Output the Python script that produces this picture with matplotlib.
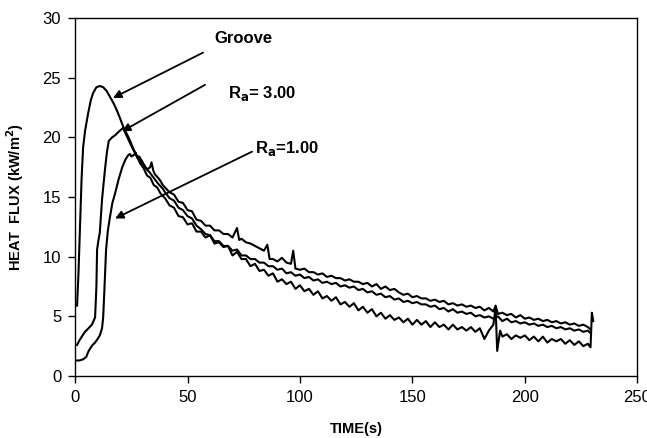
import matplotlib
matplotlib.use("Agg")
import matplotlib.pyplot as plt

# Groove (decays fastest, lowest at the end)
t_groove = [0.9, 1.5, 2.2, 2.9, 3.6, 4.5, 5.8, 7.0, 8.0, 9.5, 11.0, 12.5, 14.0, 15.5, 17.0,
            18.5, 20.0, 21.4, 23.0, 24.5, 26.0, 27.5, 29.0, 30.5, 32.0, 33.5, 35.0, 36.5, 38.0,
            40, 42, 44, 46, 48, 50, 52, 54, 56, 58, 60, 62, 64, 66, 68, 70, 72, 74, 76, 78,
            80, 82, 84, 86, 88, 90, 92, 94, 96, 98, 100, 102, 104, 106, 108, 110, 112, 114,
            116, 118, 120, 122, 124, 126, 128, 130, 132, 134, 136, 138, 140, 142, 144, 146,
            148, 150, 152, 154, 156, 158, 160, 162, 164, 166, 168, 170, 172, 174, 176, 178,
            180, 182, 184, 186, 187, 187.7, 189, 190, 192, 194, 196, 198, 200, 202, 204, 206,
            208, 210, 212, 214, 216, 218, 220, 222, 224, 226, 228, 229.2, 229.8, 230.4]
q_groove = [5.9, 8.5, 12.5, 16.5, 19.2, 20.6, 22.0, 23.1, 23.7, 24.2, 24.3, 24.2, 23.9, 23.4, 22.9,
            22.3, 21.6, 20.9, 20.3, 19.7, 19.0, 18.4, 17.8, 17.4, 16.8, 16.6, 16.0, 15.8, 15.3,
            14.9, 14.3, 14.1, 13.4, 13.3, 12.7, 12.8, 12.1, 12.1, 11.6, 11.8, 11.1, 11.2, 10.8, 10.9, 10.1, 10.4, 9.8, 9.8, 9.2,
            9.4, 8.8, 8.9, 8.4, 8.6, 7.9, 8.1, 7.7, 7.9, 7.3, 7.6, 7.1, 7.3, 6.8, 7.1, 6.5, 6.7, 6.3,
            6.6, 6.0, 6.2, 5.8, 6.1, 5.5, 5.8, 5.3, 5.6, 5.0, 5.3, 4.8, 5.1, 4.7, 4.9, 4.5,
            4.8, 4.3, 4.7, 4.3, 4.6, 4.1, 4.5, 4.1, 4.3, 3.9, 4.3, 3.9, 4.1, 3.8, 4.1, 3.7,
            4.0, 3.1, 3.8, 4.3, 5.7, 2.1, 3.8, 3.3, 3.5, 3.1, 3.4, 3.2, 3.4, 3.0, 3.3, 2.9,
            3.3, 2.8, 3.1, 2.9, 3.1, 2.7, 3.0, 2.6, 2.9, 2.5, 2.7, 2.4, 5.3, 4.6]

# Ra = 3.00 (smooth middle curve)
t_ra3 = [0.9, 2.0, 3.0, 4.4, 6.0, 7.5, 8.9, 9.5, 9.8, 10.5, 11.0, 12.0, 13.3, 14.2, 15.0, 16.5,
         18.0, 19.0, 20.2, 21.4, 22.5, 24.0, 25.5, 27.0, 28.9, 30.0, 31.5, 33.0, 35.0, 37.0, 39.0,
         40, 42, 44, 46, 48, 50, 52, 54, 56, 58, 60, 62, 64, 66, 68, 70, 72, 74, 76, 78,
         80, 82, 84, 86, 88, 90, 92, 94, 96, 98, 100, 102, 104, 106, 108, 110, 112, 114,
         116, 118, 120, 122, 124, 126, 128, 130, 132, 134, 136, 138, 140, 142, 144, 146,
         148, 150, 152, 154, 156, 158, 160, 162, 164, 166, 168, 170, 172, 174, 176, 178,
         180, 182, 184, 186, 188, 190, 192, 194, 196, 198, 200, 202, 204, 206, 208, 210,
         212, 214, 216, 218, 220, 222, 224, 226, 228, 229.2]
q_ra3 = [2.6, 3.0, 3.3, 3.7, 4.0, 4.3, 4.9, 7.5, 10.6, 11.5, 12.0, 14.8, 17.3, 18.8, 19.7, 20.0,
         20.2, 20.4, 20.6, 20.8, 20.3, 19.7, 19.1, 18.6, 18.1, 17.8, 17.4, 17.1, 16.6, 16.1, 15.7,
         15.4, 14.9, 14.7, 14.1, 13.9, 13.4, 13.2, 12.6, 12.3, 11.9, 11.8, 11.3, 11.3, 10.9, 10.9, 10.5, 10.6, 10.1, 10.1, 9.8,
         9.8, 9.5, 9.5, 9.2, 9.2, 8.9, 9.0, 8.6, 8.7, 8.4, 8.5, 8.2, 8.3, 8.0, 8.1, 7.8, 7.9, 7.7,
         7.8, 7.5, 7.6, 7.4, 7.5, 7.2, 7.3, 7.0, 7.1, 6.8, 6.9, 6.6, 6.7, 6.4, 6.5, 6.2,
         6.3, 6.1, 6.2, 6.0, 6.0, 5.8, 5.9, 5.6, 5.7, 5.4, 5.6, 5.3, 5.4, 5.2, 5.3, 5.0,
         5.1, 4.9, 5.0, 4.8, 5.0, 4.6, 4.8, 4.5, 4.6, 4.4, 4.5, 4.3, 4.4, 4.2, 4.3, 4.1,
         4.2, 4.0, 4.1, 3.9, 4.0, 3.8, 3.9, 3.7, 3.8, 3.6]

# Ra = 1.00 (spiky upper curve)
t_ra1 = [0.9, 2.0, 3.6, 5.0, 5.8, 6.7, 7.8, 8.9, 10.0, 11.0, 12.0, 12.5, 13.0, 13.8, 14.6, 15.5,
         16.6, 17.8, 19.4, 21.0, 22.3, 23.6, 24.4, 25.0, 26.0, 27.0, 27.6, 28.5, 29.8, 31.0,
         32.0, 33.4, 34.0, 34.8, 35.5, 36.5, 37.8, 39.0,
         40, 42, 44, 46, 48, 50, 52, 54, 56, 58, 60, 62, 64, 66, 68, 70, 72, 73, 74, 76, 78,
         80, 82, 84, 85.5, 86.5, 88, 90, 92, 94, 96, 97, 98, 100, 102, 104, 106, 108, 110,
         112, 114, 116, 118, 120, 122, 124, 126, 128, 130, 132, 134, 136, 138, 140, 142, 144,
         146, 148, 150, 152, 154, 156, 158, 160, 162, 164, 166, 168, 170, 172, 174, 176, 178,
         180, 182, 184, 186, 187, 188, 190, 192, 194, 196, 198, 200, 202, 204, 206, 208, 210,
         212, 214, 216, 218, 220, 222, 224, 226, 228, 229.2]
q_ra1 = [1.3, 1.3, 1.4, 1.6, 2.0, 2.3, 2.6, 2.8, 3.1, 3.4, 4.0, 4.9, 7.0, 10.6, 12.2, 13.3,
         14.5, 15.3, 16.5, 17.5, 18.1, 18.5, 18.6, 18.4, 18.5, 18.7, 18.3, 18.4, 18.0, 17.6,
         17.3, 17.5, 17.9, 17.2, 16.9, 16.7, 16.4, 16.0,
         15.8, 15.4, 15.2, 14.6, 14.5, 13.9, 13.8, 13.1, 13.0, 12.6, 12.6, 12.2, 12.2, 11.9, 11.9, 11.6, 12.4, 11.4, 11.5, 11.2, 11.1,
         10.9, 10.7, 10.5, 11.0, 9.8, 9.8, 9.6, 9.9, 9.5, 9.4, 10.5, 9.0, 8.9, 9.0, 8.7, 8.7, 8.5, 8.6,
         8.3, 8.4, 8.2, 8.2, 8.0, 8.1, 7.9, 7.9, 7.7, 7.8, 7.5, 7.7, 7.3, 7.5, 7.2, 7.3, 7.0,
         6.8, 6.9, 6.6, 6.7, 6.5, 6.5, 6.3, 6.4, 6.2, 6.3, 6.0, 6.1, 5.9, 6.0, 5.8, 5.9, 5.7,
         5.8, 5.5, 5.7, 5.4, 5.9, 5.2, 5.3, 5.1, 5.2, 4.9, 5.1, 4.8, 4.9, 4.7, 4.8, 4.6, 4.7,
         4.5, 4.6, 4.4, 4.5, 4.3, 4.4, 4.2, 4.3, 4.1, 3.9]

fig = plt.figure(figsize=(6.47, 4.38), dpi=100)
ax = fig.add_axes([0.116, 0.1416, 0.869, 0.8173])

lw = 1.5
ax.plot(t_groove, q_groove, color="black", lw=lw)
ax.plot(t_ra3, q_ra3, color="black", lw=lw)
ax.plot(t_ra1, q_ra1, color="black", lw=lw)

ax.set_xlim(0, 250)
ax.set_ylim(0, 30)
ax.set_xticks([0, 50, 100, 150, 200, 250])
ax.set_yticks([0, 5, 10, 15, 20, 25, 30])
ax.tick_params(direction="out", length=5, width=1, labelsize=12, pad=5)
for lab in ax.get_xticklabels() + ax.get_yticklabels():
    lab.set_fontfamily("Liberation Sans")
for s in ax.spines.values():
    s.set_linewidth(1.0)

ax.set_xlabel("TIME(s)", fontfamily="Liberation Sans", fontweight="bold",
              fontsize=10.5, labelpad=12)
ax.set_ylabel(r"HEAT  FLUX (kW/m$^{\mathbf{2}}$)", fontfamily="Liberation Sans",
              fontweight="bold", fontsize=10.5, labelpad=12)

arrow = dict(arrowstyle="-|>", color="black", lw=1.3, mutation_scale=12, shrinkA=0, shrinkB=0)
ax.annotate("", xy=(16.9, 23.3), xytext=(56.9, 27.1), arrowprops=arrow)
ax.annotate("", xy=(20.9, 20.5), xytext=(57.8, 24.4), arrowprops=arrow)
ax.annotate("", xy=(17.8, 13.2), xytext=(78.7, 18.8), arrowprops=arrow)

tkw = dict(fontfamily="Liberation Sans", fontweight="bold", fontsize=12, va="center")
ax.text(62.0, 28.3, "Groove", **tkw)
ax.text(68.0, 23.7, r"R$_{\mathbf{a}}$= 3.00", **tkw)
ax.text(80.0, 19.1, r"R$_{\mathbf{a}}$=1.00", **tkw)

fig.savefig("out.png", dpi=100)
